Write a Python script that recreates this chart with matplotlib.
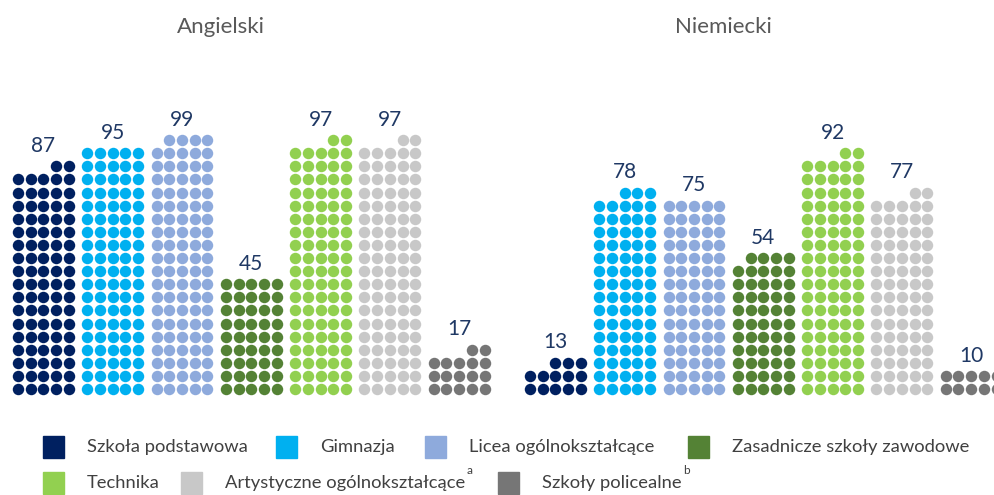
import math
import matplotlib
matplotlib.use("Agg")
import matplotlib.pyplot as plt
from matplotlib.patches import Rectangle

plt.rcParams['font.family'] = ['Lato', 'DejaVu Sans']

# data
groups = ["Angielski", "Niemiecki"]
categories = ["Szkoła podstawowa", "Gimnazja", "Licea ogólnokształcące",
              "Zasadnicze szkoły zawodowe", "Technika",
              "Artystyczne ogólnokształcące", "Szkoły policealne"]
superscripts = ["", "", "", "", "", "a", "b"]
angielski = [87, 95, 99, 45, 97, 97, 17]
niemiecki = [13, 78, 75, 54, 92, 77, 10]
values = [angielski, niemiecki]
colors = ["#002060", "#00b0f0", "#8eaadc", "#548235", "#92d050", "#c8c8c8", "#767676"]

W, H = 995, 495
PX, PY = 12.7, 13.1          # dot pitch in pixels
X0, Y0 = 18, 389             # first dot centre (pixels from top-left)
COL_STEP = 69.3 / PX         # distance between waffle columns, in dots
GROUP_START = [0, (530 - X0) / PX]
NCOL = 5

fig = plt.figure(figsize=(W / 100, H / 100), dpi=100)
ax = fig.add_axes([0, 0, 1, 1])
ax.set_xlim(-X0 / PX, (W - X0) / PX)
ax.set_ylim(-(H - Y0) / PY, Y0 / PY)
ax.axis("off")

for g, vals in enumerate(values):
    for c, v in enumerate(vals):
        x_start = GROUP_START[g] + c * COL_STEP
        full, rest = divmod(v, NCOL)
        xs, ys = [], []
        for r in range(full):
            for k in range(NCOL):
                xs.append(x_start + k)
                ys.append(r)
        for k in range(NCOL - rest, NCOL):
            xs.append(x_start + k)
            ys.append(full)
        ax.scatter(xs, ys, s=68, color=colors[c], linewidths=0)
        top = math.ceil(v / NCOL) - 1
        ax.text(x_start + (NCOL - 1) / 2, top + 1.55, str(v), ha="center", va="center",
                fontsize=15, color="#1f3864")

# group titles
fig.text(221 / W, 1 - 27 / H, groups[0], ha="center", va="center", fontsize=16, color="#595959")
fig.text(723 / W, 1 - 27 / H, groups[1], ha="center", va="center", fontsize=16, color="#595959")

# legend, laid out like the original (4 + 3 entries)
legend_pos = [(43, 447), (276, 447), (425, 447), (688, 447),
              (43, 483), (181, 483), (498, 483)]
fig.canvas.draw()
renderer = fig.canvas.get_renderer()
for i, (lx, ly) in enumerate(legend_pos):
    fig.patches.append(Rectangle((lx / W, 1 - (ly + 11) / H), 21 / W, 22 / H,
                                 transform=fig.transFigure, color=colors[i], figure=fig))
    t = fig.text((lx + 44) / W, 1 - ly / H, categories[i], ha="left", va="center",
                 fontsize=13.2, color="#404040")
    if superscripts[i]:
        bb = t.get_window_extent(renderer)
        fig.text(bb.x1 / W + 1.5 / W, 1 - (ly - 12) / H, superscripts[i], ha="left",
                 va="center", fontsize=8.5, color="#404040")

fig.savefig("out.png", dpi=100)
